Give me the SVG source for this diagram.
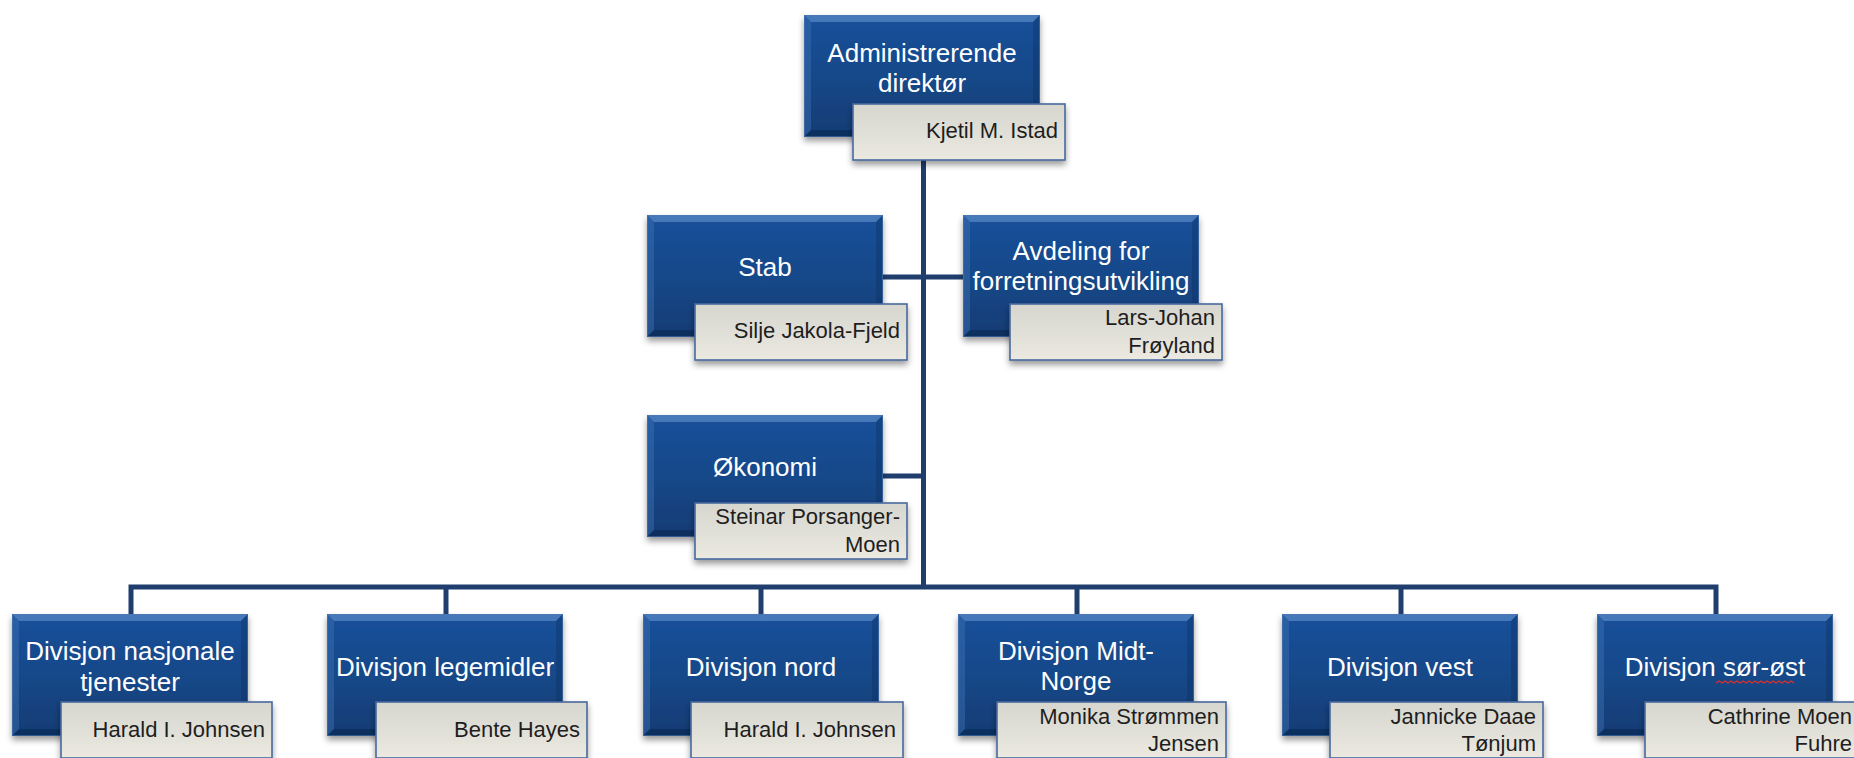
<svg xmlns="http://www.w3.org/2000/svg" xmlns:xlink="http://www.w3.org/1999/xlink" width="1854" height="758" viewBox="0 0 1854 758">
<style>
.conn{fill:none;stroke:#1f3e6e;stroke-width:5;stroke-linejoin:miter;stroke-linecap:butt}
.title{font-family:"Liberation Sans",Arial,sans-serif;font-size:26px;fill:#ffffff;text-anchor:middle}
.name{font-family:"Liberation Sans",Arial,sans-serif;font-size:22px;fill:#1e1e1e;text-anchor:end}
.nbox{fill:url(#gName);stroke:#47699e;stroke-width:1.6;filter:url(#shadow)}
</style>
<defs>
<linearGradient id="gBody" x1="0" y1="0" x2="0" y2="1">
<stop offset="0" stop-color="#1a519a"/>
<stop offset="0.5" stop-color="#164889"/>
<stop offset="1" stop-color="#113c74"/>
</linearGradient>
<linearGradient id="gName" x1="0" y1="0" x2="0" y2="1">
<stop offset="0" stop-color="#d6d6cf"/>
<stop offset="1" stop-color="#ebe9e0"/>
</linearGradient>
<filter id="shadow" x="-10%" y="-10%" width="120%" height="130%">
<feDropShadow dx="0" dy="4" stdDeviation="3" flood-color="#000" flood-opacity="0.4"/>
</filter>
<g id="box">
<rect x="0" y="0" width="236" height="122" fill="url(#gBody)" filter="url(#shadow)"/>
<polygon points="0,0 236,0 229,7 7,7" fill="#6a9ad6" opacity="0.55"/>
<polygon points="0,0 7,7 7,115 0,122" fill="#3f72b4" opacity="0.45"/>
<polygon points="236,0 236,122 229,115 229,7" fill="#0b2d5c" opacity="0.35"/>
<polygon points="0,122 7,115 229,115 236,122" fill="#08244a" opacity="0.5"/>
<rect x="0.5" y="0.5" width="235" height="121" fill="none" stroke="#4f78b0" stroke-width="1" opacity="0.6"/>
</g>
</defs>
<rect width="1854" height="758" fill="#ffffff"/>

<g id="connectors">
<path class="conn" d="M923.5,137 V587"/>
<path class="conn" d="M883,277 H963"/>
<path class="conn" d="M883,476 H923.5"/>
<path class="conn" d="M131,614 V587 H1716 V614"/>
<path class="conn" d="M446,587 V614"/>
<path class="conn" d="M761,587 V614"/>
<path class="conn" d="M1077,587 V614"/>
<path class="conn" d="M1401,587 V614"/>
</g>

<g id="node-adm">
<use xlink:href="#box" x="804" y="15"/>
<text class="title" x="922" y="62">Administrerende</text>
<text class="title" x="922" y="92">direktør</text>
<rect class="nbox" x="853" y="104" width="212" height="56"/>
<text class="name" x="1058" y="138">Kjetil M. Istad</text>
</g>

<g id="node-stab">
<use xlink:href="#box" x="647" y="215"/>
<text class="title" x="765" y="276">Stab</text>
<rect class="nbox" x="695" y="304" width="212" height="56"/>
<text class="name" x="900" y="338">Silje Jakola-Fjeld</text>
</g>

<g id="node-avdeling">
<use xlink:href="#box" x="963" y="215"/>
<text class="title" x="1081" y="260">Avdeling for</text>
<text class="title" x="1081" y="290">forretningsutvikling</text>
<rect class="nbox" x="1010" y="304" width="212" height="56"/>
<text class="name" x="1215" y="325">Lars-Johan</text>
<text class="name" x="1215" y="353">Frøyland</text>
</g>

<g id="node-okonomi">
<use xlink:href="#box" x="647" y="415"/>
<text class="title" x="765" y="476">Økonomi</text>
<rect class="nbox" x="695" y="503" width="212" height="56"/>
<text class="name" x="900" y="524">Steinar Porsanger-</text>
<text class="name" x="900" y="552">Moen</text>
</g>

<g id="node-div-nasjonale">
<use xlink:href="#box" x="12" y="614"/>
<text class="title" x="130" y="660">Divisjon nasjonale</text>
<text class="title" x="130" y="691">tjenester</text>
<rect class="nbox" x="61" y="702" width="211" height="56"/>
<text class="name" x="265" y="737">Harald I. Johnsen</text>
</g>

<g id="node-div-legemidler">
<use xlink:href="#box" x="327" y="614"/>
<text class="title" x="445" y="676">Divisjon legemidler</text>
<rect class="nbox" x="376" y="702" width="211" height="56"/>
<text class="name" x="580" y="737">Bente Hayes</text>
</g>

<g id="node-div-nord">
<use xlink:href="#box" x="643" y="614"/>
<text class="title" x="761" y="676">Divisjon nord</text>
<rect class="nbox" x="691" y="702" width="212" height="56"/>
<text class="name" x="896" y="737">Harald I. Johnsen</text>
</g>

<g id="node-div-midt">
<use xlink:href="#box" x="958" y="614"/>
<text class="title" x="1076" y="660">Divisjon Midt-</text>
<text class="title" x="1076" y="690">Norge</text>
<rect class="nbox" x="997" y="702" width="229" height="56"/>
<text class="name" x="1219" y="724">Monika Strømmen</text>
<text class="name" x="1219" y="751">Jensen</text>
</g>

<g id="node-div-vest">
<use xlink:href="#box" x="1282" y="614"/>
<text class="title" x="1400" y="676">Divisjon vest</text>
<rect class="nbox" x="1330" y="702" width="213" height="56"/>
<text class="name" x="1536" y="724">Jannicke Daae</text>
<text class="name" x="1536" y="751">Tønjum</text>
</g>

<g id="node-div-sorost">
<use xlink:href="#box" x="1597" y="614"/>
<text class="title" x="1715" y="676">Divisjon sør-øst</text>
<path d="M1716,683 l3,-2 3,2 3,-2 3,2 3,-2 3,2 3,-2 3,2 3,-2 3,2 3,-2 3,2 3,-2 3,2 3,-2 3,2 3,-2 3,2 3,-2 3,2 3,-2 3,2 3,-2 3,2 3,-2 3,2" fill="none" stroke="#e0302a" stroke-width="1.2"/>
<rect class="nbox" x="1645" y="702" width="214" height="56"/>
<text class="name" x="1852" y="724">Cathrine Moen</text>
<text class="name" x="1852" y="751">Fuhre</text>
</g>
</svg>
